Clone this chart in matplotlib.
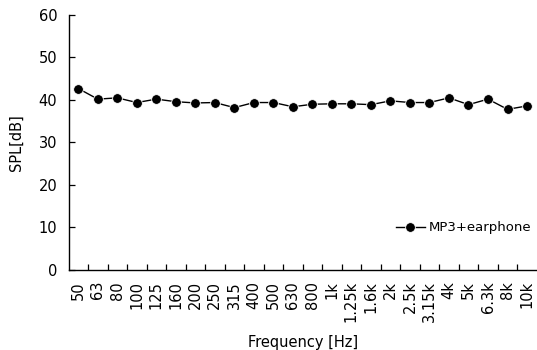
import numpy as np
import matplotlib
matplotlib.use("Agg")
import matplotlib.pyplot as plt

# third-octave band centre frequencies
freqs = ["50", "63", "80", "100", "125", "160", "200", "250", "315", "400",
         "500", "630", "800", "1k", "1.25k", "1.6k", "2k", "2.5k", "3.15k",
         "4k", "5k", "6.3k", "8k", "10k"]
# SPL for MP3 + earphone, dB
spl = [42.7, 40.2, 40.5, 39.4, 40.2, 39.6, 39.3, 39.4, 38.2, 39.4,
       39.4, 38.4, 39.0, 39.1, 39.1, 38.9, 39.8, 39.4, 39.4,
       40.5, 38.9, 40.2, 37.8, 38.6]
yticks = [0, 10, 20, 30, 40, 50, 60]

plt.rcParams['font.family'] = ['DejaVu Sans']
fig = plt.figure(figsize=(5.37, 3.5), dpi=100)
ax = fig.add_axes([0.1276, 0.2286, 0.872, 0.7286])

xs = np.arange(len(freqs))
ax.plot(xs, spl, color='black', lw=1.0, marker='o', markersize=7,
        markerfacecolor='black', markeredgecolor='white', markeredgewidth=0.6,
        label='MP3+earphone')

ax.set_xlim(-0.5, len(freqs) - 0.5)
ax.set_ylim(0, 60)
ax.set_yticks(yticks)
ax.set_xticks(xs)
ax.set_xticklabels(freqs, rotation=90, fontsize=10.5)
ax.set_xticks(np.arange(len(freqs) - 1) + 0.5, minor=True)
ax.tick_params(axis='x', which='major', length=0, pad=8)
ax.tick_params(axis='x', which='minor', direction='in', length=4, width=0.9)
ax.tick_params(axis='y', direction='in', length=4, width=0.9, labelsize=10.5, pad=8)

for side in ['top', 'right']:
    ax.spines[side].set_visible(False)
for side in ['left', 'bottom']:
    ax.spines[side].set_linewidth(1.0)

ax.set_ylabel("SPL[dB]", fontsize=10.5, labelpad=11)
ax.set_xlabel("Frequency [Hz]", fontsize=10.5, labelpad=9)

ax.legend(loc='center right', bbox_to_anchor=(1.0, 0.165), frameon=False,
          fontsize=9.5, handlelength=2.2, handletextpad=0.3, borderaxespad=0)

fig.savefig("out.png", dpi=100)
